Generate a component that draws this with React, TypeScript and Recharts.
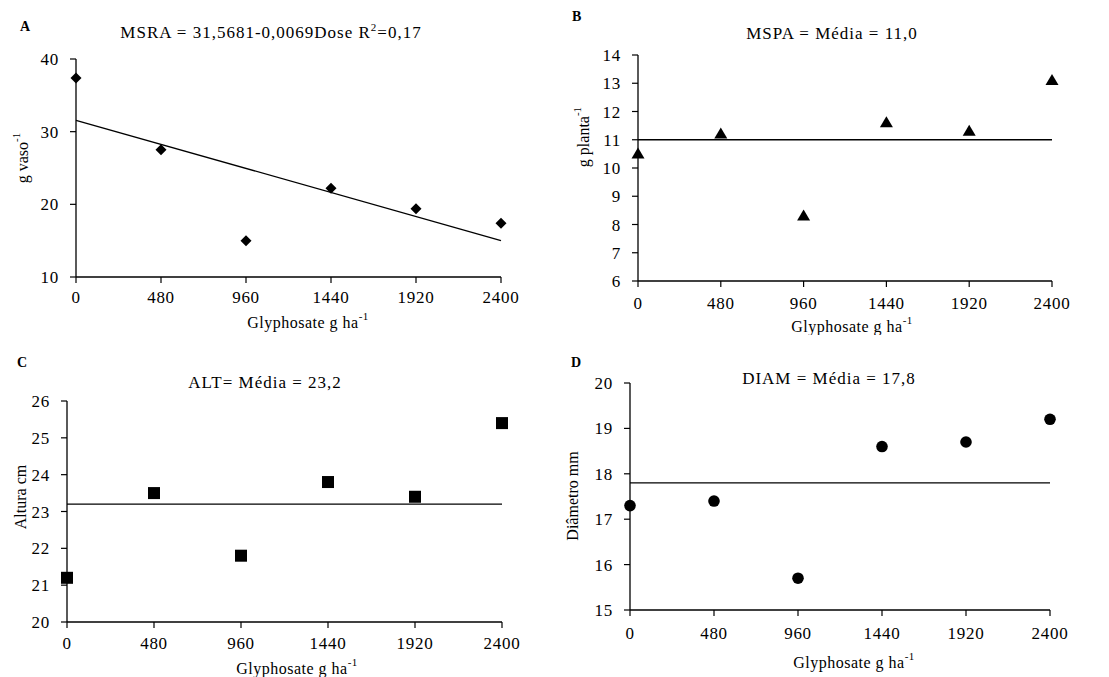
import React from "react";
import { ScatterChart, Scatter, XAxis, YAxis, ReferenceLine } from "recharts";

const FONT = "'Liberation Serif', 'Times New Roman', serif";

const doses = [0, 480, 960, 1440, 1920, 2400];
const msra = [37.4, 27.5, 15.0, 22.2, 19.4, 17.4];
const mspa = [10.5, 11.2, 8.3, 11.6, 11.3, 13.1];
const alt = [21.2, 23.5, 21.8, 23.8, 23.4, 25.4];
const diam = [17.3, 17.4, 15.7, 18.6, 18.7, 19.2];

// MSRA = a + b * Dose
const msraFit = [31.5681, -0.0069];
const mspaMean = 11.0;
const altMean = 23.2;
const diamMean = 17.8;

const ticksA = [10, 20, 30, 40];
const ticksB = [6, 7, 8, 9, 10, 11, 12, 13, 14];
const ticksC = [20, 21, 22, 23, 24, 25, 26];
const ticksD = [15, 16, 17, 18, 19, 20];

const toPoints = (vals: number[]) =>
  doses.map((d, i) => ({ dose: d, value: vals[i] }));

const Diamond = (p: any) => (
  <polygon
    points={`${p.cx},${p.cy - 5.5} ${p.cx + 5.5},${p.cy} ${p.cx},${p.cy + 5.5} ${p.cx - 5.5},${p.cy}`}
    fill="#000"
  />
);
const Triangle = (p: any) => (
  <polygon
    points={`${p.cx},${p.cy - 6.5} ${p.cx + 6.5},${p.cy + 4.5} ${p.cx - 6.5},${p.cy + 4.5}`}
    fill="#000"
  />
);
const Square = (p: any) => (
  <rect x={p.cx - 6} y={p.cy - 6} width={12} height={12} fill="#000" />
);
const Dot = (p: any) => <circle cx={p.cx} cy={p.cy} r={5.8} fill="#000" />;

const rotTitle = (text: string, sup: string, x: number, y: number) => () => (
  <text
    x={x}
    y={y}
    transform={`rotate(-90, ${x}, ${y})`}
    textAnchor="middle"
    dominantBaseline="central"
    fontSize={16}
    fontFamily={FONT}
    fill="#000"
  >
    {text}
    {sup && (
      <tspan dy={-6} fontSize={11}>
        {sup}
      </tspan>
    )}
  </text>
);

const xTitle = (x: number, y: number) => () => (
  <text
    x={x}
    y={y}
    textAnchor="middle"
    dominantBaseline="central"
    fontSize={16}
    fontFamily={FONT}
    fill="#000"
    letterSpacing={0.5}
  >
    Glyphosate g ha
    <tspan dy={-6} fontSize={11}>
      -1
    </tspan>
  </text>
);

interface PanelProps {
  left: number;
  top: number;
  width: number;
  height: number;
  yWidth: number;
  mTop: number;
  mRight: number;
  xHeight: number;
  xTickMargin: number;
  domain: [number, number];
  ticks: number[];
  values: number[];
  shape: (p: any) => React.ReactElement;
  yLabel: any;
  xLabel: any;
  children?: React.ReactNode;
}

function Panel(p: PanelProps) {
  const tickStyle = { fill: "#000", fontSize: 17, fontFamily: FONT, letterSpacing: 0.7 };
  return (
    <div style={{ position: "absolute", left: p.left, top: p.top }}>
      <ScatterChart
        width={p.width}
        height={p.height}
        margin={{ top: p.mTop, right: p.mRight, bottom: 0, left: 0 }}
      >
        <XAxis
          type="number"
          dataKey="dose"
          domain={[0, 2400]}
          ticks={doses}
          interval={0}
          height={p.xHeight}
          tickSize={6}
          tickMargin={p.xTickMargin}
          tick={tickStyle}
          tickLine={{ stroke: "#000", strokeWidth: 1.2 }}
          axisLine={{ stroke: "#000", strokeWidth: 1.3 }}
          label={p.xLabel}
        />
        <YAxis
          type="number"
          dataKey="value"
          domain={p.domain}
          ticks={p.ticks}
          interval={0}
          width={p.yWidth}
          tickSize={6}
          tickMargin={11}
          tick={tickStyle}
          tickLine={{ stroke: "#000", strokeWidth: 1.2 }}
          axisLine={{ stroke: "#000", strokeWidth: 1.3 }}
          label={p.yLabel}
        />
        {p.children}
        <Scatter
          data={toPoints(p.values)}
          shape={p.shape}
          isAnimationActive={false}
        />
      </ScatterChart>
    </div>
  );
}

const Title = ({ x, y, children }: { x: number; y: number; children: React.ReactNode }) => (
  <div
    style={{
      position: "absolute",
      left: x,
      top: y,
      transform: "translate(-50%, -50%)",
      whiteSpace: "nowrap",
      fontFamily: FONT,
      fontSize: 17,
      letterSpacing: 1,
      lineHeight: "20px",
      color: "#000",
    }}
  >
    {children}
  </div>
);

const Letter = ({ x, y, children }: { x: number; y: number; children: React.ReactNode }) => (
  <div
    style={{
      position: "absolute",
      left: x,
      top: y,
      transform: "translateY(-50%)",
      fontFamily: FONT,
      fontWeight: "bold",
      fontSize: 14,
      lineHeight: "16px",
      color: "#000",
    }}
  >
    {children}
  </div>
);

const Sup = ({ children }: { children: React.ReactNode }) => (
  <span style={{ fontSize: 11, verticalAlign: "super", lineHeight: 0 }}>{children}</span>
);

export default function App() {
  const lineStyle = { stroke: "#000", strokeWidth: 1.3 };
  return (
    <div
      style={{
        position: "absolute",
        left: 0,
        top: 0,
        width: 1109,
        height: 677,
        background: "#fff",
        overflow: "hidden",
      }}
    >
      <Panel
        left={0}
        top={0}
        width={555}
        height={335}
        yWidth={76}
        mTop={59}
        mRight={54}
        xHeight={58}
        xTickMargin={8}
        domain={[10, 40]}
        ticks={ticksA}
        values={msra}
        shape={Diamond}
        yLabel={rotTitle("g vaso", "-1", 22, 158)}
        xLabel={xTitle(308, 322)}
      >
        <ReferenceLine
          segment={[
            { x: 0, y: msraFit[0] },
            { x: 2400, y: msraFit[0] + msraFit[1] * 2400 },
          ]}
          {...lineStyle}
        />
      </Panel>
      <Panel
        left={555}
        top={0}
        width={554}
        height={335}
        yWidth={83}
        mTop={55}
        mRight={57}
        xHeight={54}
        xTickMargin={10}
        domain={[6, 14]}
        ticks={ticksB}
        values={mspa}
        shape={Triangle}
        yLabel={rotTitle("g planta", "-1", 28, 137)}
        xLabel={xTitle(297, 326)}
      >
        <ReferenceLine y={mspaMean} {...lineStyle} />
      </Panel>
      <Panel
        left={0}
        top={335}
        width={555}
        height={342}
        yWidth={67}
        mTop={66}
        mRight={53}
        xHeight={55}
        xTickMargin={9}
        domain={[20, 26]}
        ticks={ticksC}
        values={alt}
        shape={Square}
        yLabel={rotTitle("Altura cm", "", 20, 162)}
        xLabel={xTitle(297, 333)}
      >
        <ReferenceLine y={altMean} {...lineStyle} />
      </Panel>
      <Panel
        left={555}
        top={335}
        width={554}
        height={342}
        yWidth={75}
        mTop={48}
        mRight={59}
        xHeight={67}
        xTickMargin={11}
        domain={[15, 20]}
        ticks={ticksD}
        values={diam}
        shape={Dot}
        yLabel={rotTitle("Diâmetro mm", "", 17, 161)}
        xLabel={xTitle(299, 327)}
      >
        <ReferenceLine y={diamMean} {...lineStyle} />
      </Panel>

      <Title x={271} y={33}>
        MSRA = 31,5681-0,0069Dose R<Sup>2</Sup>=0,17
      </Title>
      <Title x={832} y={34}>MSPA = Média = 11,0</Title>
      <Title x={265} y={383}>ALT= Média = 23,2</Title>
      <Title x={829} y={379}>DIAM = Média = 17,8</Title>

      <Letter x={20} y={27}>A</Letter>
      <Letter x={572} y={17}>B</Letter>
      <Letter x={17} y={363}>C</Letter>
      <Letter x={571} y={363}>D</Letter>
    </div>
  );
}
